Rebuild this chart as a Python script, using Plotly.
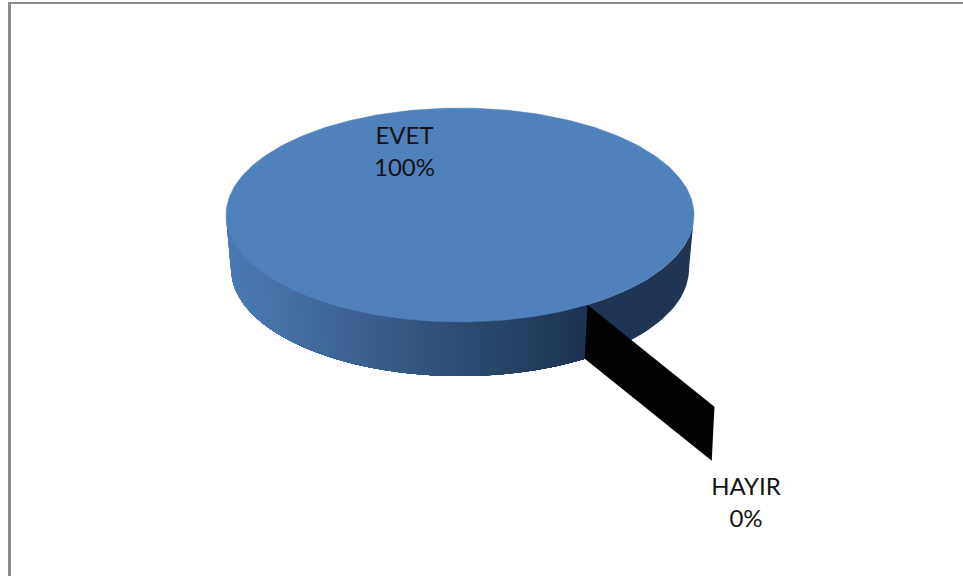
import numpy as np
import plotly.graph_objects as go

# Data
categories = ["EVET", "HAYIR"]
values = [100, 0]

# Drawing parameters (pixel-like plot coordinates)
W, H = 963, 576
CX, CY_TOP, CY_BOT = 460, 215, 269
RX_TOP, RX_BOT, RY = 234, 229, 107
SEAM_DEG = 57.0           # where the slices meet, measured clockwise from 3 o'clock
EXPLODE = (127, 102)      # offset of the pulled-out slice
TOP_COLOR = "#4f81bd"
SHADE_RIGHT = "#1f3553"
SHADE_L = np.array([0x4b, 0x7b, 0xb5])
SHADE_R = np.array([0x1d, 0x32, 0x4f])
LABEL_XY = {"EVET": (404.5, 154), "HAYIR": (746, 505)}

seam = np.radians(SEAM_DEG)
total = sum(values)
labels = [f"{c}<br>{round(100 * v / total)}%" for c, v in zip(categories, values)]


def top(t):
    return CX + RX_TOP * np.cos(t), CY_TOP + RY * np.sin(t)


def bot(t):
    return CX + RX_BOT * np.cos(t), CY_BOT + RY * np.sin(t)


def poly(fig, x, y, color, lw=0.0):
    fig.add_trace(go.Scatter(
        x=list(x), y=list(y), mode="lines", fill="toself", fillcolor=color,
        line=dict(color=color, width=lw), hoverinfo="skip", showlegend=False))


fig = go.Figure()

# Wall of the pie, right of the seam: flat shade
ts = np.linspace(0, seam, 40)
xt, yt = top(ts)
xb, yb = bot(ts)
poly(fig, np.r_[xt, xb[::-1]], np.r_[yt, yb[::-1]], SHADE_RIGHT)

# Wall of the pie, left of the seam: shade strips painted left to right,
# each one reaching to the seam so no gaps show between them
starts = np.linspace(np.pi, seam, 130)[:-1]
for a in starts:
    ts = np.linspace(a, seam, 40)
    xt, yt = top(ts)
    xb, yb = bot(ts)
    f = (xt[0] - (CX - RX_TOP)) / (top(seam)[0] - (CX - RX_TOP))
    rgb = (SHADE_L + (SHADE_R - SHADE_L) * f).round().astype(int)
    poly(fig, np.r_[xt, xb[::-1]], np.r_[yt, yb[::-1]],
         f"rgb({rgb[0]},{rgb[1]},{rgb[2]})")

# Top face, full circle for EVET's share
ts = np.linspace(0, 2 * np.pi, 361)
xt, yt = top(ts)
poly(fig, xt, yt, TOP_COLOR, 0.5)

# Pulled-out HAYIR slice: zero-width, so only its cut wall shows
x1, y1 = top(seam)
x2, y2 = bot(seam)
poly(fig,
     [x1, x1 + EXPLODE[0], x2 + EXPLODE[0], x2],
     [y1, y1 + EXPLODE[1], y2 + EXPLODE[1], y2],
     "#030303")

# Labels
fig.add_trace(go.Scatter(
    x=[LABEL_XY[c][0] for c in categories],
    y=[LABEL_XY[c][1] for c in categories],
    mode="text", text=labels, textposition="middle center",
    textfont=dict(family="Lato, Carlito, sans-serif", size=24, color="#141414"),
    hoverinfo="skip", showlegend=False))

# Frame of the chart, cut off at the right and bottom
frame = [
    dict(type="rect", x0=8, x1=11, y0=2, y1=H, fillcolor="#8c8c8c", line_width=0, layer="below"),
    dict(type="rect", x0=8, x1=W, y0=2, y1=4, fillcolor="#8c8c8c", line_width=0, layer="below"),
]

fig.update_layout(
    width=W, height=H, margin=dict(l=0, r=0, t=0, b=0),
    paper_bgcolor="white", plot_bgcolor="white", showlegend=False, shapes=frame,
    xaxis=dict(range=[0, W], visible=False, fixedrange=True),
    yaxis=dict(range=[H, 0], visible=False, fixedrange=True),
)
fig.write_html(
    "out.html",
    config={"displayModeBar": False},
    post_script="document.body.style.margin='0';document.body.style.overflow='hidden';",
)
